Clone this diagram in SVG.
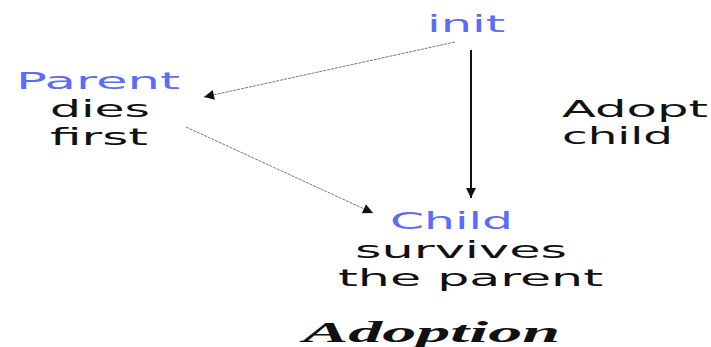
<svg xmlns="http://www.w3.org/2000/svg" width="711" height="347" viewBox="0 0 711 347">
  <defs>
    <marker id="headThin" viewBox="0 0 10 10" refX="10" refY="5" markerWidth="14" markerHeight="10" markerUnits="userSpaceOnUse" orient="auto">
      <path d="M0,0 L10,5 L0,10 Z" fill="#111"/>
    </marker>
    <marker id="headBold" viewBox="0 0 10 10" refX="10" refY="5" markerWidth="10" markerHeight="12" markerUnits="userSpaceOnUse" orient="auto">
      <path d="M0,0 L10,5 L0,10 Z" fill="#111"/>
    </marker>
  </defs>
  <style>
    .lbl { font-family: "DejaVu Sans", Verdana, sans-serif; font-size: 23px; fill: #111; }
    .key { fill: #5a6cf8; }
    .title { font-family: "Liberation Serif", "Times New Roman", serif; font-size: 30px; font-weight: bold; font-style: italic; fill: #111; }
    .thin { stroke: #777; stroke-width: 1; stroke-dasharray: 3 1; fill: none; marker-end: url(#headThin); }
    .bold { stroke: #111; stroke-width: 2; fill: none; marker-end: url(#headBold); }
  </style>
  <rect width="711" height="347" fill="#fff"/>

  <g id="connectors">
    <line class="thin" x1="455" y1="42" x2="204" y2="97"/>
    <line class="thin" x1="186" y1="127" x2="373" y2="213"/>
    <line class="bold" x1="471" y1="50" x2="471" y2="198"/>
  </g>

  <g id="init">
    <text class="lbl key" x="427" y="32" textLength="78" lengthAdjust="spacingAndGlyphs">init</text>
  </g>

  <g id="parent">
    <text class="lbl key" x="16" y="89" textLength="164" lengthAdjust="spacingAndGlyphs">Parent</text>
    <text class="lbl" x="50" y="117" textLength="100" lengthAdjust="spacingAndGlyphs">dies</text>
    <text class="lbl" x="50" y="145" textLength="98" lengthAdjust="spacingAndGlyphs">first</text>
  </g>

  <g id="adopt-label">
    <text class="lbl" x="562" y="117" textLength="146" lengthAdjust="spacingAndGlyphs">Adopt</text>
    <text class="lbl" x="562" y="144" textLength="111" lengthAdjust="spacingAndGlyphs">child</text>
  </g>

  <g id="child">
    <text class="lbl key" x="390" y="229" textLength="123" lengthAdjust="spacingAndGlyphs">Child</text>
    <text class="lbl" x="355" y="258" textLength="212" lengthAdjust="spacingAndGlyphs">survives</text>
    <text class="lbl" x="338" y="286" textLength="265" lengthAdjust="spacingAndGlyphs">the parent</text>
  </g>

  <g id="caption">
    <text class="title" x="303" y="342" textLength="257" lengthAdjust="spacingAndGlyphs">Adoption</text>
  </g>
</svg>
